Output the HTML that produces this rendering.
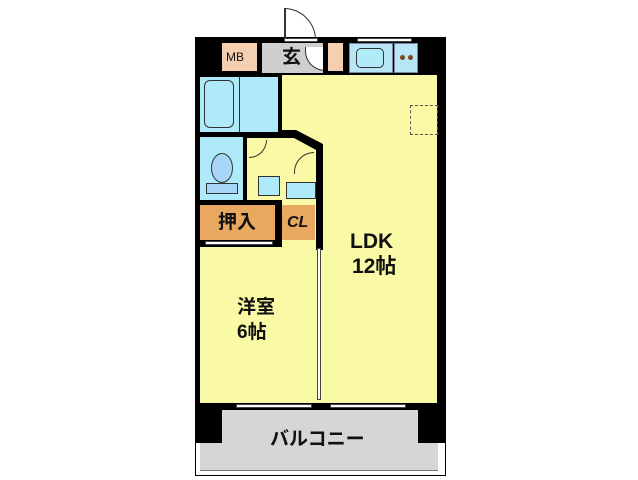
<!DOCTYPE html>
<html><head><meta charset="utf-8"><style>
body{margin:0;width:638px;height:480px;background:#fff;position:relative;overflow:hidden;font-family:"Liberation Sans","Noto Sans CJK JP",sans-serif}
div{position:absolute;box-sizing:border-box}
.t{font-weight:bold;color:#111;white-space:nowrap;line-height:1}
</style></head><body>
<!-- outer balcony outline -->
<div style="left:195px;top:438px;width:251px;height:38px;border:1px solid #000;background:#fff"></div>
<div style="left:200px;top:440px;width:238px;height:31px;background:#d6d6d6;border:1px solid #777"></div>
<!-- black base -->
<div style="left:195px;top:37px;width:251px;height:406px;background:#000"></div>
<!-- top row -->
<div style="left:222px;top:43px;width:35px;height:28px;background:#f6cfb0"></div>
<div class="t" style="left:226px;top:51px;font-size:12px;font-weight:normal">MB</div>
<div style="left:262px;top:43px;width:62px;height:30px;background:#cfcfcf"></div>
<div class="t" style="left:282px;top:48px;font-size:19px">玄</div>
<div style="left:305px;top:47px;width:20px;height:24px;border-left:1px solid #333;border-bottom:1px solid #333;border-radius:0 0 0 20px;background:#fff"></div>
<div style="left:328px;top:43px;width:15px;height:28px;background:#f6cfb0"></div>
<div style="left:323px;top:43px;width:3px;height:38px;background:#000"></div>
<div style="left:349px;top:43px;width:44px;height:30px;background:#b8e6f6;border:1px solid #789"></div>
<div style="left:356px;top:48px;width:28px;height:20px;border:1px solid #333;border-radius:5px;background:#b0ecf8"></div>
<div style="left:394px;top:43px;width:24px;height:30px;background:#b8e6f6;border:1px solid #789"></div>
<div style="left:400px;top:55px;width:5px;height:5px;border-radius:50%;background:#7a4a20"></div>
<div style="left:408px;top:55px;width:5px;height:5px;border-radius:50%;background:#7a4a20"></div>
<div style="left:357px;top:38px;width:55px;height:4px;background:#fff;border:1px solid #444"></div>
<!-- entrance door -->
<div style="left:284px;top:8px;width:32px;height:32px;border-top:1px solid #333;border-right:1px solid #333;border-radius:0 32px 0 0"></div>
<div style="left:284px;top:8px;width:2px;height:32px;background:#333"></div>
<div style="left:284px;top:38px;width:34px;height:4px;background:#fff;border:1px solid #444"></div>
<!-- bath -->
<div style="left:200px;top:77px;width:78px;height:55px;background:#aeeafa"></div>
<div style="left:204px;top:80px;width:30px;height:48px;border:1px solid #333;border-radius:6px;background:#aeeafa"></div>
<div style="left:239px;top:77px;width:1px;height:55px;background:#333"></div>
<!-- LDK -->
<div style="left:282px;top:75px;width:155px;height:328px;background:#fafaa6"></div>
<div style="left:410px;top:105px;width:28px;height:30px;border:1px dashed #555"></div>
<!-- hallway with diagonal -->
<svg style="position:absolute;left:0;top:0" width="638" height="480">
<polygon points="278,130 296,130 323,144 323,250 316,250 316,150 294,138 278,138" fill="#000"/>
<polygon points="247,138 293,138 316,150 316,200 247,200" fill="#fafaa6"/>
</svg>
<div style="left:258px;top:176px;width:22px;height:20px;border:1px solid #333;background:#aeeafa"></div>
<div style="left:286px;top:182px;width:30px;height:17px;border:1px solid #333;background:#aeeafa"></div>
<div style="left:249px;top:140px;width:18px;height:18px;border-right:1px solid #333;border-bottom:1px solid #333;border-radius:0 0 18px 0"></div>
<div style="left:294px;top:152px;width:20px;height:22px;border-left:1px solid #333;border-top:1px solid #333;border-radius:20px 0 0 0"></div>
<!-- toilet -->
<div style="left:200px;top:137px;width:43px;height:63px;background:#aeeafa"></div>
<div style="left:211px;top:153px;width:22px;height:30px;border:1px solid #333;border-radius:50%;background:#a8d6f8"></div>
<div style="left:206px;top:183px;width:32px;height:11px;border:1px solid #333;background:#a8d6f8"></div>
<!-- closets -->
<div style="left:200px;top:205px;width:75px;height:35px;background:#e8a860"></div>
<div class="t" style="left:218px;top:213px;font-size:19px">押入</div>
<div style="left:282px;top:205px;width:33px;height:35px;background:#e8a860"></div>
<div class="t" style="left:287px;top:215px;font-size:16px;font-style:italic">CL</div>
<!-- western room -->
<div style="left:200px;top:247px;width:116px;height:156px;background:#fafaa6"></div>
<div style="left:205px;top:241px;width:68px;height:4px;background:#fff;border:1px solid #444"></div>
<div style="left:317px;top:248px;width:4px;height:152px;background:#fff;border:1px solid #444"></div>
<div class="t" style="left:237px;top:298px;font-size:19px">洋室</div>
<div class="t" style="left:237px;top:323px;font-size:19px">6帖</div>
<div class="t" style="left:350px;top:231px;font-size:21px">LDK</div>
<div class="t" style="left:352px;top:256px;font-size:21px">12帖</div>
<!-- balcony -->
<div style="left:222px;top:410px;width:196px;height:40px;background:#d6d6d6"></div>
<div style="left:200px;top:443px;width:238px;height:27px;background:#d6d6d6"></div>
<div style="left:236px;top:404px;width:76px;height:4px;background:#fff;border:1px solid #444"></div>
<div style="left:330px;top:404px;width:76px;height:4px;background:#fff;border:1px solid #444"></div>
<div class="t" style="left:270px;top:430px;font-size:19px">バルコニー</div>
</body></html>
